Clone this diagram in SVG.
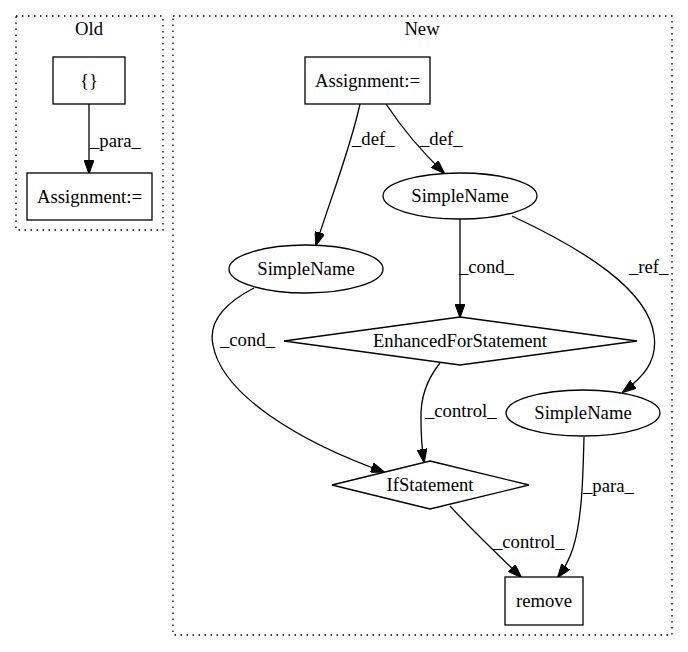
<svg xmlns="http://www.w3.org/2000/svg" width="688" height="652" viewBox="0 0 688 652">
<style>
text{font-family:"Liberation Serif","Times New Roman",serif;font-size:18.67px;fill:#000}
.n text{text-anchor:middle}
.n rect,.n ellipse,.n polygon{fill:#fff;stroke:#000;stroke-width:1.3}
.cl{fill:none;stroke:#000;stroke-width:1.3;stroke-dasharray:1.5,4.5}
.e path{fill:none;stroke:#000;stroke-width:1.3;marker-end:url(#ah)}
.lbl{text-anchor:start}
</style>
<defs>
<marker id="ah" markerUnits="userSpaceOnUse" markerWidth="14" markerHeight="10" viewBox="0 0 14 10" refX="13" refY="5" orient="auto">
<path d="M0,0 L14,5 L0,10 Z" fill="#000" stroke="#000" stroke-width="1"/>
</marker>
</defs>
<rect width="688" height="652" fill="#fff"/>
<g id="cluster_old">
<rect class="cl" x="16" y="16" width="147" height="214"/>
<text x="89" y="35" text-anchor="middle">Old</text>
</g>
<g id="cluster_new">
<rect class="cl" x="173" y="16" width="499" height="619"/>
<text x="422" y="35" text-anchor="middle">New</text>
</g>
<g class="e" id="edges">
<path d="M89,104 L89,173"/>
<path d="M360,104 C350,150 330,200 316,245"/>
<path d="M386,104 C400,125 420,150 444,173"/>
<path d="M460,219 L460,317"/>
<path d="M512,216 C585,250 648,290 654,335 C658,362 642,378 623,392"/>
<path d="M254,288 C225,303 208,322 213,345 C222,395 300,442 384,472"/>
<path d="M440,363 C428,378 420,398 421,420 C421,437 422,449 424,462"/>
<path d="M450,506 C470,528 495,552 521,577"/>
<path d="M584,437 C583,478 582,520 573,548 C569,561 564,569 558,577"/>
<text class="lbl" x="90" y="147">_para_</text>
<text class="lbl" x="352" y="145">_def_</text>
<text class="lbl" x="420" y="145">_def_</text>
<text class="lbl" x="459" y="273">_cond_</text>
<text class="lbl" x="629" y="273">_ref_</text>
<text class="lbl" x="220" y="346">_cond_</text>
<text class="lbl" x="425" y="417">_control_</text>
<text class="lbl" x="493" y="548">_control_</text>
<text class="lbl" x="583" y="492">_para_</text>
</g>
<g class="n" id="old_braces">
<rect x="53" y="57" width="72" height="47"/>
<text x="89" y="87">{}</text>
</g>
<g class="n" id="old_assignment">
<rect x="27" y="173" width="125" height="47"/>
<text x="89.5" y="203">Assignment:=</text>
</g>
<g class="n" id="new_assignment">
<rect x="305" y="57" width="125" height="47"/>
<text x="367.5" y="87">Assignment:=</text>
</g>
<g class="n" id="simplename_top">
<ellipse cx="460" cy="196" rx="77" ry="23"/>
<text x="460" y="202">SimpleName</text>
</g>
<g class="n" id="simplename_left">
<ellipse cx="306" cy="269" rx="77" ry="24"/>
<text x="306" y="275">SimpleName</text>
</g>
<g class="n" id="enhanced_for">
<polygon points="460,317 637,341 460,365 284,341"/>
<text x="460" y="347">EnhancedForStatement</text>
</g>
<g class="n" id="simplename_right">
<ellipse cx="583" cy="413" rx="77" ry="23"/>
<text x="583" y="419">SimpleName</text>
</g>
<g class="n" id="if_statement">
<polygon points="430,461 529,485 430,509 332,485"/>
<text x="430" y="491">IfStatement</text>
</g>
<g class="n" id="remove">
<rect x="505" y="577" width="78" height="48"/>
<text x="544" y="607">remove</text>
</g>
</svg>
